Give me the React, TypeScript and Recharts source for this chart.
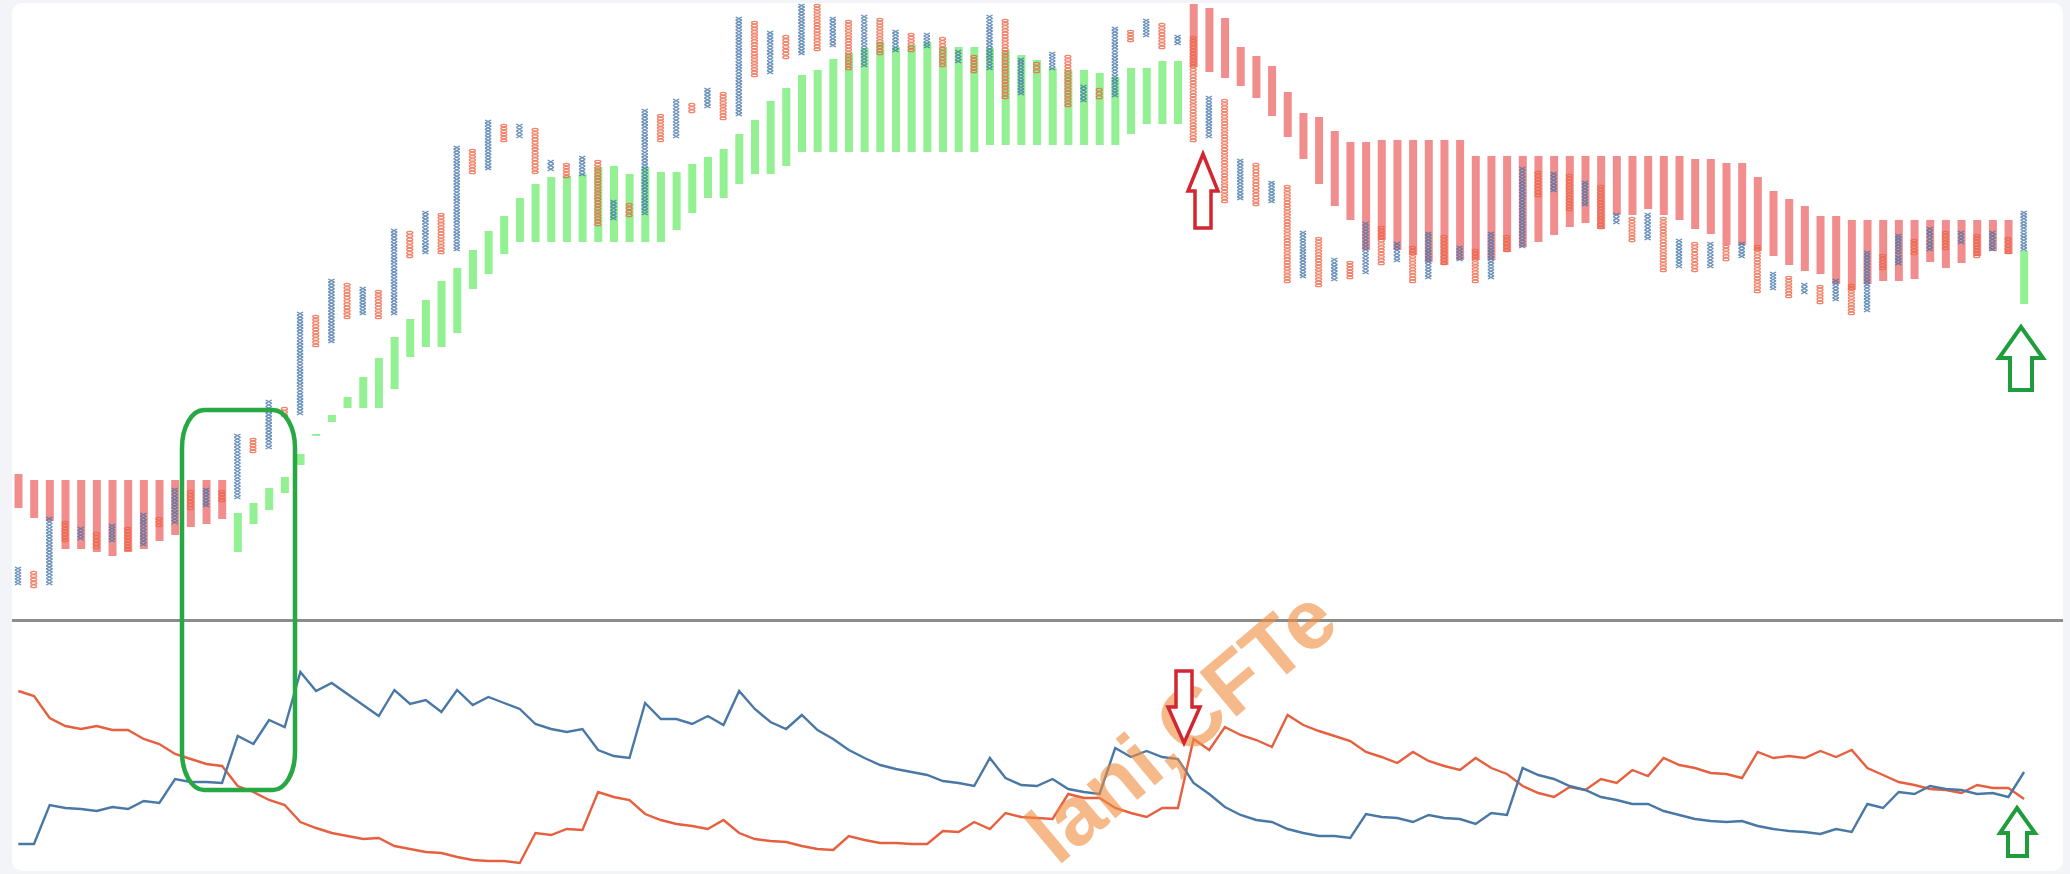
import React from "react"
import { ComposedChart, Bar, Cell, XAxis, YAxis, LineChart, Line } from "recharts"

// Ichimoku cloud spans (one value per column)
const spanA = [
  22.4, 20.4, 19.8, 14.2, 14.2, 13.6, 12.8, 13.6, 14.2, 15.8, 17.0, 18.6, 19.2, 20.2,
  21.4, 23.4, 26.4, 28.6, 33.2, 37.2, 41.0, 44.6, 48.6, 52.4, 56.6, 60.2, 64.0, 67.8, 70.4, 74.0,
  77.8, 80.8, 84.4, 87.2, 88.6, 88.8, 89.2, 90.6, 90.8, 89.2, 90.6, 89.6, 89.6,
  91.2, 92.6, 94.2, 97.2, 100.0, 103.8, 106.4, 109.0, 110.0, 112.2, 113.4, 114.4, 115.6, 114.6,
  115.0, 115.6, 114.6, 114.6, 114.6, 114.4, 114.0, 113.0,
  112.0, 110.4, 110.0, 110.0, 109.4, 108.6, 110.4, 110.4, 111.8, 111.8,
  110.6, 109.6, 108.4, 106.8, 104.4, 100.8, 96.6, 92.2, 87.2, 82.8, 80.0, 74.0,
  76.0, 74.0, 73.0, 71.6, 71.0, 72.0, 72.0, 72.0, 73.6, 74.6, 75.6, 77.0, 78.6, 79.4, 78.2, 81.0,
  81.0, 82.2, 81.0, 80.0, 78.2, 77.2,
  75.0, 75.0, 73.8, 72.8, 71.0, 69.8, 69.2, 67.2, 66.0, 67.2, 67.8, 67.8, 68.2, 71.6, 70.4, 71.4,
  72.8, 73.8, 73.2, 73.8,
]
const spanB = [
  29.2, 28.0, 28.0, 28.0, 28.0, 28.0, 28.0, 28.0, 28.0, 28.0, 28.0, 28.0, 28.0, 28.0,
  13.6, 19.2, 22.0, 25.4, 31.0, 36.8, 39.6, 42.4, 42.4, 42.4, 46.2, 52.6, 54.6, 54.6, 57.4, 66.2,
  69.2, 73.2, 75.6, 75.6, 75.6, 75.6, 75.6, 75.6, 75.6, 75.6, 75.6, 75.6, 78.0,
  81.4, 84.4, 84.4, 87.2, 89.2, 89.2, 90.8, 93.6, 93.6, 93.6, 93.6, 93.6, 93.6, 93.6,
  93.6, 93.6, 93.6, 93.6, 93.6, 95.0, 95.0, 95.0,
  95.0, 95.0, 95.0, 95.0, 95.0, 95.0, 97.2, 99.2, 99.2, 99.2,
  123.2, 122.4, 120.4, 114.6, 112.8, 110.8, 105.6, 101.4, 100.6, 97.8, 95.6, 95.6,
  96.0, 96.0, 96.0, 96.0, 96.0, 96.0, 92.8, 92.8, 92.8, 92.8, 92.8, 92.8, 92.8, 92.8, 92.8, 92.8,
  92.8, 92.8, 92.8, 92.8, 92.2, 92.2,
  91.4, 91.4, 88.6, 85.8, 84.2, 82.8, 80.8, 80.8, 80.0, 80.0, 80.0, 80.0, 80.0, 80.0, 80.0, 80.0,
  80.0, 80.0, 80.0, 63.2,
]

// point & figure columns, alternating X / O starting with X
const pfHigh = [
  10.6, 9.8, 20.6, 19.8, 18.6, 17.6, 19.2, 18.6, 21.4, 20.6, 26.4, 26.0, 26.4, 26.0,
  37.2, 36.4, 44.0, 42.6, 61.6, 61.0, 68.2, 67.4, 66.6, 66.0, 78.2, 77.8, 81.8, 81.4, 94.8, 94.2,
  100.0, 99.2, 99.2, 98.4, 92.0, 91.4, 92.8, 92.0, 84.0, 83.4, 102.2, 101.2, 104.2,
  103.4, 106.4, 105.6, 120.6, 119.8, 117.8, 117.0, 123.2, 123.2, 120.6, 120.0, 121.0, 120.4, 118.0,
  117.4, 117.4, 116.6, 114.0, 113.0, 121.0, 120.2, 112.4,
  111.6, 113.6, 113.0, 107.0, 106.4, 118.6, 118.0, 120.2, 119.4, 117.0,
  116.8, 104.8, 104.2, 92.2, 91.4, 87.8, 87.0, 77.8, 76.6, 72.4, 71.8, 79.6,
  78.8, 75.6, 74.8, 77.6, 77.0, 74.8, 74.2, 77.6, 77.0, 90.6, 89.8, 89.6, 89.2, 87.8, 87.0, 81.4,
  80.6, 81.4, 80.6, 76.2, 75.6, 75.6,
  75.0, 75.6, 75.0, 69.6, 68.8, 67.4, 67.0, 68.2, 67.2, 73.8, 73.2, 77.2, 76.2, 78.6, 77.8, 77.8,
  77.2, 77.8, 76.6, 81.8,
]
const pfLow = [
  7.0, 6.4, 7.0, 15.6, 16.0, 14.2, 15.6, 13.8, 14.8, 18.6, 19.2, 22.0, 22.6, 23.6,
  24.2, 33.4, 34.2, 40.6, 41.0, 54.6, 55.4, 60.2, 61.0, 60.2, 61.0, 72.4, 73.2, 73.2, 73.8, 89.2,
  90.0, 95.6, 96.4, 89.2, 89.8, 88.4, 88.8, 78.8, 80.0, 80.6, 81.0, 95.6, 96.4,
  101.4, 102.4, 100.0, 100.8, 108.6, 109.2, 112.2, 113.0, 113.8, 114.6, 110.0, 110.6, 113.0, 113.6,
  113.6, 114.4, 110.6, 111.4, 109.4, 110.0, 104.2, 105.0,
  109.4, 110.0, 102.6, 103.6, 104.2, 104.6, 115.6, 116.6, 114.2, 115.0,
  95.6, 96.4, 83.4, 84.0, 82.8, 83.4, 67.4, 68.4, 66.6, 67.8, 68.2, 69.2,
  71.0, 71.6, 67.4, 68.2, 71.0, 71.8, 67.4, 68.2, 73.6, 74.4, 84.6, 85.6, 81.8, 82.8, 78.2, 79.2,
  75.6, 76.0, 69.6, 70.4, 69.6, 70.4,
  71.8, 72.4, 65.4, 66.0, 64.4, 65.2, 63.2, 63.8, 61.0, 61.6, 70.0, 71.0, 73.0, 73.8, 74.0, 75.2,
  72.4, 73.8, 73.2, 73.8,
]

// directional indicators
const plusDI = [
  7.2, 7.2, 15.0, 14.4, 14.2, 13.8, 14.6, 14.2, 15.8, 15.4, 20.2, 19.6, 19.6, 19.4, 28.8, 27.2, 32.0,
  30.6, 41.6, 37.8, 39.4,
  37.2, 35.0, 32.8, 38.0, 35.2, 36.0, 33.6, 38.0, 35.0, 36.6, 35.4, 34.2, 31.2, 30.2, 29.6, 30.2,
  26.0, 24.8, 24.4, 35.4, 32.2, 32.2,
  31.2, 32.8, 31.0, 37.8, 34.2, 31.6, 30.2, 33.0, 30.0, 28.2, 26.0, 24.4, 23.0, 22.2, 21.6, 21.0,
  19.8, 19.4, 18.8, 24.4, 20.4, 19.0,
  18.8, 20.2, 18.2, 17.6, 17.2, 26.4, 24.6, 25.8, 24.6, 24.2, 19.4, 17.2, 14.6, 13.0, 12.0, 11.6,
  10.2, 9.4, 8.8, 8.8, 8.4, 13.2,
  12.6, 12.4, 11.6, 13.0, 12.4, 12.2, 11.2, 13.4, 13.0, 22.4, 21.0, 20.2, 18.8, 18.0, 16.6, 16.0,
  15.2, 15.2, 13.8, 13.0, 12.2, 11.8,
  11.6, 11.8, 10.8, 10.2, 9.8, 9.6, 9.2, 10.2, 9.6, 15.2, 14.4, 17.6, 17.2, 18.8, 18.2, 18.0,
  17.2, 17.4, 16.6, 21.6,
]
const minusDI = [
  37.8, 36.8, 32.4, 30.8, 30.2, 30.8, 30.0, 30.0, 28.2, 27.2, 25.2, 24.2, 23.2, 22.8, 18.8, 17.6,
  16.0, 15.0, 11.6, 10.4, 9.4,
  8.8, 8.2, 8.4, 6.8, 6.2, 5.6, 5.4, 4.6, 4.0, 3.8, 3.8, 3.4, 9.4, 9.0, 10.2, 10.0, 17.6, 16.6,
  16.0, 13.2, 12.0, 11.2,
  10.8, 10.2, 12.0, 9.4, 8.2, 7.8, 7.6, 6.8, 6.2, 6.0, 8.8, 8.0, 7.4, 7.4, 7.2, 7.2, 9.8, 9.6,
  11.6, 10.2, 13.4, 12.6,
  12.4, 12.2, 17.2, 16.4, 16.4, 14.4, 13.4, 12.6, 14.4, 14.4, 28.2, 26.0, 30.6, 29.0, 28.0, 26.6,
  33.0, 31.0, 29.8, 28.8, 27.8, 25.6,
  24.6, 23.4, 25.6, 23.8, 22.8, 22.0, 24.4, 22.4, 21.2, 18.8, 17.4, 16.6, 18.6, 18.0, 20.2, 19.4,
  22.0, 20.8, 24.4, 23.0, 22.4, 21.4,
  21.2, 20.4, 25.6, 24.4, 24.8, 24.4, 25.8, 24.6, 26.0, 22.4, 21.0, 19.6, 19.0, 18.2, 18.0, 17.4,
  19.0, 18.4, 18.4, 16.2,
]

const W = 2070
const H = 874
const M_LEFT = 10.5
const M_RIGHT = 38.1

const priceData = spanA.map((a, i) => ({
  i,
  cloud: [Math.min(a, spanB[i]), Math.max(a, spanB[i])],
  bull: a >= spanB[i],
  pf: [pfLow[i], pfHigh[i]],
  kind: i % 2 === 0 ? "X" : "O",
}))

const diData = plusDI.map((p, i) => ({ i, plus: p, minus: minusDI[i] }))

const PnfShape = (props: any) => {
  const { x, y, width, payload } = props
  let { height } = props
  if (!height) return null
  let top = y
  if (height < 0) {
    top = y + height
    height = -height
  }
  const n = Math.max(1, Math.round(height / 3.2))
  const h = height / n
  const isX = payload.kind === "X"
  const items = []
  for (let k = 0; k < n; k++) {
    const t = top + k * h
    if (isX) {
      items.push(
        <path key={k} d={`M${x + 0.4},${t}L${x + width - 0.4},${t + h}M${x + width - 0.4},${t}L${x + 0.4},${t + h}`} />
      )
    } else {
      items.push(<ellipse key={k} cx={x + width / 2} cy={t + h / 2} rx={width / 2 - 0.5} ry={Math.max(0.7, h / 2 - 0.3)} />)
    }
  }
  return (
    <g stroke={isX ? "#4274ac" : "#ee6344"} strokeWidth={1.3} fill="none" opacity={0.8}>
      {items}
    </g>
  )
}

export default function App() {
  return (
    <div style={{ position: "absolute", left: 0, top: 0, width: W, height: H, background: "#f2f4f7", overflow: "hidden" }}>
      <div style={{ position: "absolute", left: 12, top: 3, width: 2051, height: 868, background: "#fff", borderRadius: 10 }} />

      <div style={{ position: "absolute", left: 0, top: 0 }}>
        <ComposedChart width={W} height={620} data={priceData} margin={{ top: 0, right: M_RIGHT, bottom: 0, left: M_LEFT }}>
          <XAxis xAxisId="cl" dataKey="i" hide />
          <XAxis xAxisId="pf" dataKey="i" hide />
          <YAxis domain={[0, 124]} hide allowDataOverflow />
          <Bar xAxisId="cl" dataKey="cloud" barSize={8} isAnimationActive={false}>
            {priceData.map((d) => (
              <Cell key={d.i} fill={d.bull ? "rgb(40,225,40)" : "rgb(229,28,28)"} fillOpacity={0.5} />
            ))}
          </Bar>
          <Bar xAxisId="pf" dataKey="pf" barSize={7} shape={<PnfShape />} isAnimationActive={false} />
        </ComposedChart>
      </div>

      <div style={{ position: "absolute", left: 12, top: 619, width: 2051, height: 2.5, background: "#8c8c8c" }} />

      <div style={{ position: "absolute", left: 0, top: 620 }}>
        <LineChart width={W} height={260} data={diData} margin={{ top: 0, right: M_RIGHT, bottom: 0, left: M_LEFT }}>
          <XAxis type="number" dataKey="i" domain={[-0.5, 128.5]} hide />
          <YAxis domain={[0, 52]} hide allowDataOverflow />
          <Line dataKey="minus" stroke="#e6603f" strokeWidth={2.4} dot={false} isAnimationActive={false} />
          <Line dataKey="plus" stroke="#4a78a6" strokeWidth={2.4} dot={false} isAnimationActive={false} />
        </LineChart>
      </div>

      <svg width={W} height={H} style={{ position: "absolute", left: 0, top: 0, pointerEvents: "none" }}>
        <text
          x={1342}
          y={628}
          transform="rotate(-40 1342 628)"
          textAnchor="end"
          fontFamily="Liberation Sans, Arial, sans-serif"
          fontWeight={700}
          fontSize={84}
          fill="#f08a3c"
          fillOpacity={0.6}
        >
          lani,CFTe
        </text>
        <rect x={182} y={410} width={113} height={380} rx={22} ry={38} fill="none" stroke="#27a845" strokeWidth={4.5} />
        <path d="M1203,154 L1218,191 L1211,191 L1211,228 L1195,228 L1195,191 L1188,191 Z" fill="#fff" stroke="#d22630" strokeWidth={3.5} strokeLinejoin="miter" />
        <path d="M1176,671 L1192,671 L1192,707 L1200,707 L1184,743 L1168,707 L1176,707 Z" fill="#fff" stroke="#d22630" strokeWidth={3.5} />
        <path d="M2021,327 L2043,358 L2032,358 L2032,390 L2010,390 L2010,358 L1999,358 Z" fill="#fff" stroke="#1f9d3c" strokeWidth={4} />
        <path d="M2017,808 L2035,833 L2027,833 L2027,856 L2008,856 L2008,833 L2000,833 Z" fill="#fff" stroke="#1f9d3c" strokeWidth={4} />
      </svg>
    </div>
  )
}
